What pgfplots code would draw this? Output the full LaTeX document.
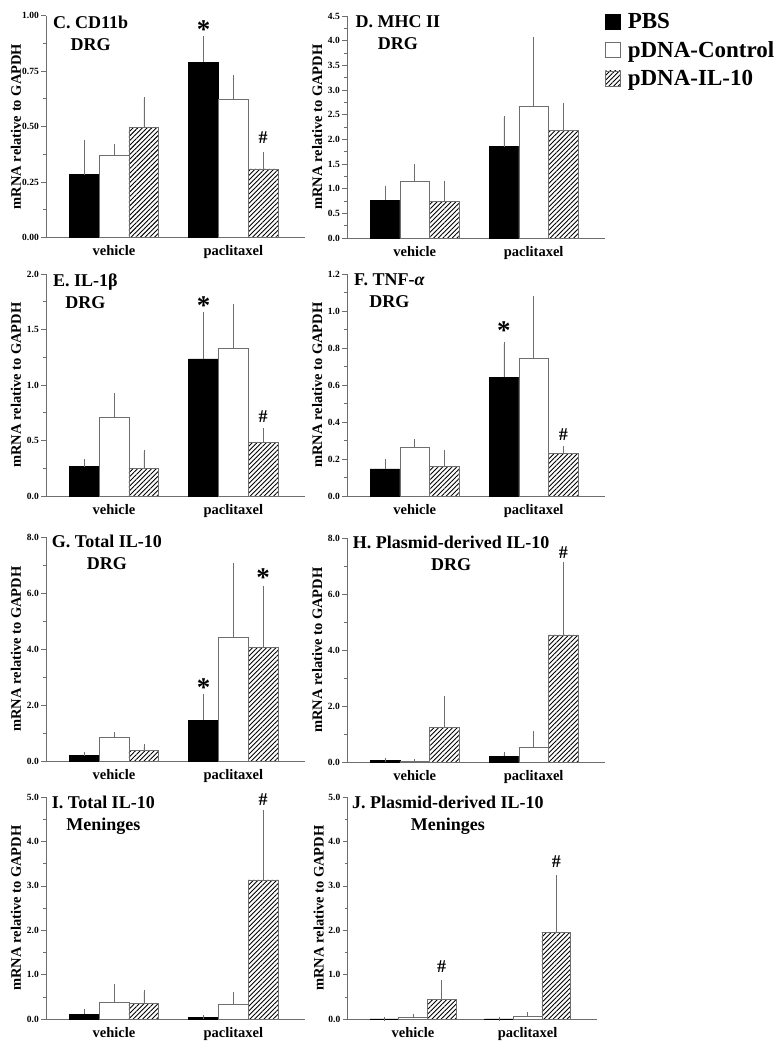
\documentclass[border=0pt]{standalone}
\usepackage{fontspec}
\setmainfont{Liberation Serif}
\usepackage{pgfplots}
\pgfplotsset{compat=1.18}
\usetikzlibrary{patterns.meta}
\definecolor{axgray}{RGB}{110,110,110}
\pgfplotsset{
  panel/.style={
    scale only axis, width=259pt, height=222pt, anchor=south west,
    xmin=-0.28, xmax=8.4, ymin=0, enlargelimits=false, clip=false,
    axis x line*=bottom, axis y line*=left,
    axis line style={axgray, line width=0.7pt},
    xtick={2,6}, xticklabels={vehicle,paclitaxel},
    x tick style={draw=none},
    tick align=outside, major tick length=5pt, minor tick length=3pt,
    y tick style={axgray, line width=0.6pt},
    minor y tick num=1,
    ylabel={mRNA relative to GAPDH},
    ylabel style={at={(axis description cs:-0.116,0.5)}, anchor=center, font=\fontsize{14.5}{16}\selectfont\bfseries},
    yticklabel style={font=\fontsize{9.5}{11}\selectfont\bfseries, /pgf/number format/assume math mode=true, inner sep=1pt, xshift=-1pt},
    xticklabel style={font=\fontsize{14.5}{16}\selectfont\bfseries, inner sep=1pt, yshift=-2pt},
    y tick label style={/pgf/number format/.cd, fixed, fixed zerofill, precision=1},
  },
  sq/.style={legend image code/.code={\draw[##1, line width=0.6pt] (0pt,-7.5pt) rectangle (15pt,7.5pt);}},
  errs/.style={error bars/.cd, y dir=plus, y explicit, error bar style={axgray, line width=0.6pt}, error mark=-, error mark options={axgray, line width=0.6pt, mark size=2pt}},
  pbs/.style={ybar, bar width=1, fill=black, draw=black, line width=0.5pt, sq, errs},
  ctl/.style={ybar, bar width=1, fill=white, draw=axgray, line width=0.6pt, sq, errs},
  il/.style={ybar, bar width=1, draw=axgray, line width=0.6pt, pattern={Lines[angle=45, distance=3.3pt, line width=0.9pt]}, sq, errs},
}
\tikzset{
  ttl/.style={anchor=north west, align=center, inner sep=0pt, font=\fontsize{18}{22}\selectfont\bfseries},
  star/.style={inner sep=0pt, font=\fontsize{27}{27}\selectfont\bfseries},
  hash/.style={inner sep=0pt, font=\fontsize{18}{18}\selectfont\bfseries},
}
\newcommand{\st}{\smash{\raisebox{-0.47em}{*}}}
\newcommand{\hs}{\smash{\raisebox{-0.34em}{\#}}}
\begin{document}
\begin{tikzpicture}
\useasboundingbox (0pt,0pt) rectangle (783pt,-1045pt);
% C
\begin{axis}[panel, at={(46pt,-237.5pt)}, ymax=1, ytick={0,0.25,0.5,0.75,1},
  y tick label style={/pgf/number format/.cd, fixed, fixed zerofill, precision=2}]
\addplot[pbs] coordinates {(1,0.283) +- (0,0.149) (5,0.790) +- (0,0.108)};
\addplot[ctl] coordinates {(2,0.369) +- (0,0.041) (6,0.621) +- (0,0.103)};
\addplot[il]  coordinates {(3,0.495) +- (0,0.130) (7,0.309) +- (0,0.069)};
\node[ttl] at (axis description cs:0.027,1) {C. CD11b\\DRG};
\node[star] at (axis cs:5,0.952) {\st};
\node[hash] at (axis cs:7,0.45) {\hs};
\end{axis}
% D
\begin{axis}[panel, width=258pt, at={(347pt,-238pt)}, ymax=4.5, ytick={0,0.5,...,4.5},
  legend style={at={(axis description cs:1.0,1.02)}, anchor=north west, draw=none, fill=none,
    font=\fontsize{23}{23}\selectfont\bfseries, legend cell align=left, row sep=7pt, inner sep=0pt,
    /tikz/every odd column/.append style={column sep=5pt}}]
\addplot[pbs] coordinates {(1,0.763) +- (0,0.241) (5,1.854) +- (0,0.576)};
\addplot[ctl] coordinates {(2,1.145) +- (0,0.321) (6,2.67) +- (0,1.36)};
\addplot[il]  coordinates {(3,0.743) +- (0,0.362) (7,2.175) +- (0,0.525)};
\legend{PBS,pDNA-Control,pDNA-IL-10}
\node[ttl] at (axis description cs:0.033,1.005) {D. MHC II\\DRG};
\end{axis}
% E
\begin{axis}[panel, at={(46pt,-496pt)}, ymax=2, ytick={0,0.5,...,2}]
\addplot[pbs] coordinates {(1,0.265) +- (0,0.048) (5,1.236) +- (0,0.403)};
\addplot[ctl] coordinates {(2,0.713) +- (0,0.195) (6,1.332) +- (0,0.382)};
\addplot[il]  coordinates {(3,0.25) +- (0,0.15) (7,0.484) +- (0,0.108)};
\node[ttl] at (axis description cs:0.027,1) {E. IL-1β\\DRG};
\node[star] at (axis cs:5,1.753) {\st};
\node[hash] at (axis cs:7,0.716) {\hs};
\end{axis}
% F
\begin{axis}[panel, width=258pt, at={(347pt,-496pt)}, ymax=1.2, ytick={0,0.2,...,1.2}]
\addplot[pbs] coordinates {(1,0.146) +- (0,0.043) (5,0.641) +- (0,0.183)};
\addplot[ctl] coordinates {(2,0.263) +- (0,0.032) (6,0.745) +- (0,0.324)};
\addplot[il]  coordinates {(3,0.162) +- (0,0.074) (7,0.231) +- (0,0.027)};
\node[ttl] at (axis description cs:0.027,1) {F. TNF-\textit{α}\\DRG};
\node[star] at (axis cs:5,0.914) {\st};
\node[hash] at (axis cs:7,0.332) {\hs};
\end{axis}
% G
\begin{axis}[panel, height=224pt, at={(46pt,-761pt)}, ymax=8, ytick={0,2,...,8}]
\addplot[pbs] coordinates {(1,0.19) +- (0,0.07) (5,1.464) +- (0,0.866)};
\addplot[ctl] coordinates {(2,0.833) +- (0,0.143) (6,4.405) +- (0,2.585)};
\addplot[il]  coordinates {(3,0.38) +- (0,0.14) (7,4.048) +- (0,2.142)};
\node[ttl] at (axis description cs:0.022,1.008) {G. Total IL-10\\DRG};
\node[star] at (axis cs:5,2.76) {\st};
\node[star] at (axis cs:7,6.69) {\st};
\end{axis}
% H
\begin{axis}[panel, width=258pt, height=224pt, at={(347pt,-762pt)}, ymax=8, ytick={0,2,...,8}]
\addplot[pbs] coordinates {(1,0.05) +- (0,0.02) (5,0.21) +- (0,0.07)};
\addplot[ctl] coordinates {(2,0.02) +- (0,0.02) (6,0.53) +- (0,0.51)};
\addplot[il]  coordinates {(3,1.24) +- (0,1.06) (7,4.54) +- (0,2.52)};
\node[ttl] at (axis description cs:0.022,1.008) {H. Plasmid-derived IL-10\\DRG};
\node[hash] at (axis cs:7,7.47) {\hs};
\end{axis}
% I
\begin{axis}[panel, at={(46pt,-1019pt)}, ymax=5, ytick={0,1,...,5}]
\addplot[pbs] coordinates {(1,0.105) +- (0,0.075) (5,0.038) +- (0,0.007)};
\addplot[ctl] coordinates {(2,0.376) +- (0,0.361) (6,0.331) +- (0,0.225)};
\addplot[il]  coordinates {(3,0.353) +- (0,0.256) (7,3.135) +- (0,1.525)};
\node[ttl] at (axis description cs:0.022,1.004) {I. Total IL-10\\Meninges};
\node[hash] at (axis cs:7,4.94) {\hs};
\end{axis}
% J
\begin{axis}[panel, width=249pt, at={(347.5pt,-1019pt)}, ymax=5, ytick={0,1,...,5}]
\addplot[pbs] coordinates {(1,0.005) +- (0,0) (5,0.005) +- (0,0)};
\addplot[ctl] coordinates {(2,0.038) +- (0,0.022) (6,0.06) +- (0,0.045)};
\addplot[il]  coordinates {(3,0.444) +- (0,0.391) (7,1.955) +- (0,1.24)};
\node[ttl] at (axis description cs:0.018,1.004) {J. Plasmid-derived IL-10\\Meninges};
\node[hash] at (axis cs:3,1.18) {\hs};
\node[hash] at (axis cs:7,3.55) {\hs};
\end{axis}
\end{tikzpicture}
\end{document}
